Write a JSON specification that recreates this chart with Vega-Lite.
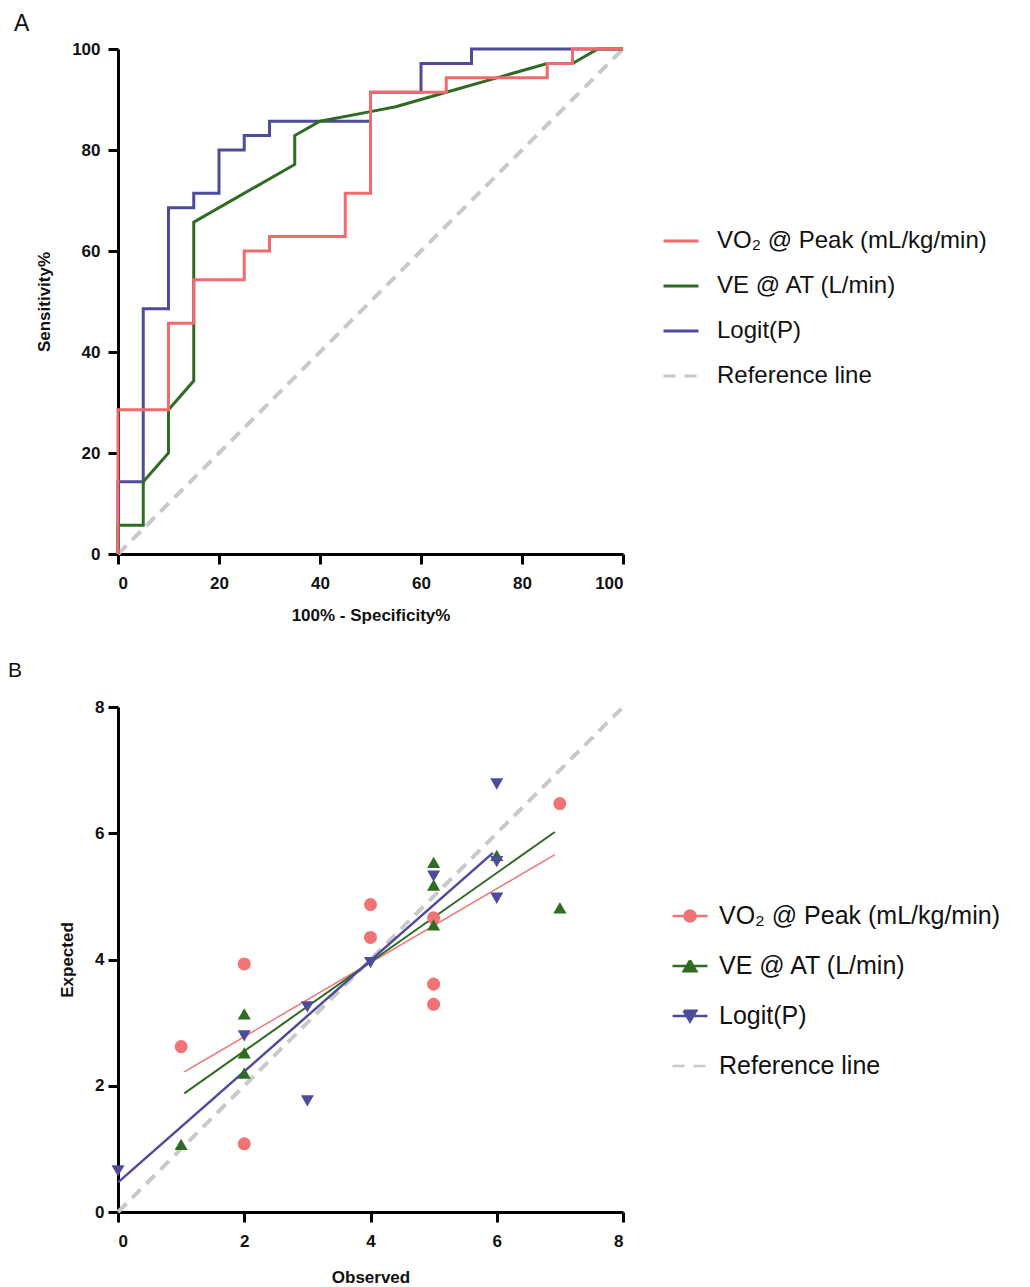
{
  "$schema": "https://vega.github.io/schema/vega-lite/v6.json",
  "background": "white",
  "padding": {"left": 8, "top": 13, "right": 0, "bottom": 0},
  "config": {
    "view": {"stroke": null},
    "font": "Liberation Sans",
    "axis": {
      "grid": false,
      "domainColor": "#000000",
      "domainWidth": 3,
      "tickColor": "#000000",
      "tickWidth": 3,
      "tickSize": 10,
      "labelFont": "Liberation Sans",
      "labelFontWeight": "bold",
      "labelFontSize": 17,
      "labelColor": "#111111",
      "titleFont": "Liberation Sans",
      "titleFontWeight": "bold",
      "titleFontSize": 17,
      "titleColor": "#111111"
    },
    "legend": {"labelFont": "Liberation Sans", "labelColor": "#111111"}
  },
  "datasets": {
    "roc": [
      {"series": "Logit(P)", "i": 0, "x": 0, "y": 0},
      {"series": "Logit(P)", "i": 1, "x": 0, "y": 14.29},
      {"series": "Logit(P)", "i": 2, "x": 5, "y": 14.29},
      {"series": "Logit(P)", "i": 3, "x": 5, "y": 48.57},
      {"series": "Logit(P)", "i": 4, "x": 10, "y": 48.57},
      {"series": "Logit(P)", "i": 5, "x": 10, "y": 68.57},
      {"series": "Logit(P)", "i": 6, "x": 15, "y": 68.57},
      {"series": "Logit(P)", "i": 7, "x": 15, "y": 71.43},
      {"series": "Logit(P)", "i": 8, "x": 20, "y": 71.43},
      {"series": "Logit(P)", "i": 9, "x": 20, "y": 80},
      {"series": "Logit(P)", "i": 10, "x": 25, "y": 80},
      {"series": "Logit(P)", "i": 11, "x": 25, "y": 82.86},
      {"series": "Logit(P)", "i": 12, "x": 30, "y": 82.86},
      {"series": "Logit(P)", "i": 13, "x": 30, "y": 85.71},
      {"series": "Logit(P)", "i": 14, "x": 50, "y": 85.71},
      {"series": "Logit(P)", "i": 15, "x": 50, "y": 91.43},
      {"series": "Logit(P)", "i": 16, "x": 60, "y": 91.43},
      {"series": "Logit(P)", "i": 17, "x": 60, "y": 97.14},
      {"series": "Logit(P)", "i": 18, "x": 70, "y": 97.14},
      {"series": "Logit(P)", "i": 19, "x": 70, "y": 100},
      {"series": "Logit(P)", "i": 20, "x": 100, "y": 100},
      {"series": "VE @ AT (L/min)", "i": 0, "x": 0, "y": 0},
      {"series": "VE @ AT (L/min)", "i": 1, "x": 0, "y": 5.71},
      {"series": "VE @ AT (L/min)", "i": 2, "x": 5, "y": 5.71},
      {"series": "VE @ AT (L/min)", "i": 3, "x": 5, "y": 14.29},
      {"series": "VE @ AT (L/min)", "i": 4, "x": 10, "y": 20},
      {"series": "VE @ AT (L/min)", "i": 5, "x": 10, "y": 28.57},
      {"series": "VE @ AT (L/min)", "i": 6, "x": 15, "y": 34.29},
      {"series": "VE @ AT (L/min)", "i": 7, "x": 15, "y": 65.71},
      {"series": "VE @ AT (L/min)", "i": 8, "x": 35, "y": 77.14},
      {"series": "VE @ AT (L/min)", "i": 9, "x": 35, "y": 82.86},
      {"series": "VE @ AT (L/min)", "i": 10, "x": 40, "y": 85.71},
      {"series": "VE @ AT (L/min)", "i": 11, "x": 50, "y": 87.6},
      {"series": "VE @ AT (L/min)", "i": 12, "x": 55, "y": 88.57},
      {"series": "VE @ AT (L/min)", "i": 13, "x": 65, "y": 91.43},
      {"series": "VE @ AT (L/min)", "i": 14, "x": 75, "y": 94.29},
      {"series": "VE @ AT (L/min)", "i": 15, "x": 85, "y": 97.14},
      {"series": "VE @ AT (L/min)", "i": 16, "x": 90, "y": 97.14},
      {"series": "VE @ AT (L/min)", "i": 17, "x": 95, "y": 100},
      {"series": "VE @ AT (L/min)", "i": 18, "x": 100, "y": 100},
      {"series": "VO₂ @ Peak (mL/kg/min)", "i": 0, "x": 0, "y": 0},
      {"series": "VO₂ @ Peak (mL/kg/min)", "i": 1, "x": 0, "y": 28.57},
      {"series": "VO₂ @ Peak (mL/kg/min)", "i": 2, "x": 10, "y": 28.57},
      {"series": "VO₂ @ Peak (mL/kg/min)", "i": 3, "x": 10, "y": 45.71},
      {"series": "VO₂ @ Peak (mL/kg/min)", "i": 4, "x": 15, "y": 45.71},
      {"series": "VO₂ @ Peak (mL/kg/min)", "i": 5, "x": 15, "y": 54.29},
      {"series": "VO₂ @ Peak (mL/kg/min)", "i": 6, "x": 25, "y": 54.29},
      {"series": "VO₂ @ Peak (mL/kg/min)", "i": 7, "x": 25, "y": 60},
      {"series": "VO₂ @ Peak (mL/kg/min)", "i": 8, "x": 30, "y": 60},
      {"series": "VO₂ @ Peak (mL/kg/min)", "i": 9, "x": 30, "y": 62.86},
      {"series": "VO₂ @ Peak (mL/kg/min)", "i": 10, "x": 45, "y": 62.86},
      {"series": "VO₂ @ Peak (mL/kg/min)", "i": 11, "x": 45, "y": 71.43},
      {"series": "VO₂ @ Peak (mL/kg/min)", "i": 12, "x": 50, "y": 71.43},
      {"series": "VO₂ @ Peak (mL/kg/min)", "i": 13, "x": 50, "y": 91.43},
      {"series": "VO₂ @ Peak (mL/kg/min)", "i": 14, "x": 65, "y": 91.43},
      {"series": "VO₂ @ Peak (mL/kg/min)", "i": 15, "x": 65, "y": 94.29},
      {"series": "VO₂ @ Peak (mL/kg/min)", "i": 16, "x": 85, "y": 94.29},
      {"series": "VO₂ @ Peak (mL/kg/min)", "i": 17, "x": 85, "y": 97.14},
      {"series": "VO₂ @ Peak (mL/kg/min)", "i": 18, "x": 90, "y": 97.14},
      {"series": "VO₂ @ Peak (mL/kg/min)", "i": 19, "x": 90, "y": 100},
      {"series": "VO₂ @ Peak (mL/kg/min)", "i": 20, "x": 100, "y": 100}
    ],
    "refA": [
      {"series": "Reference line", "x": 0, "y": 0},
      {"series": "Reference line", "x": 100, "y": 100}
    ],
    "refB": [
      {"series": "Reference line", "x": 0, "y": 0},
      {"series": "Reference line", "x": 8, "y": 8}
    ],
    "fit": [
      {"series": "VO₂ @ Peak (mL/kg/min)", "x": 1.05, "y": 2.22},
      {"series": "VO₂ @ Peak (mL/kg/min)", "x": 6.92, "y": 5.66},
      {"series": "VE @ AT (L/min)", "x": 1.05, "y": 1.88},
      {"series": "VE @ AT (L/min)", "x": 6.92, "y": 6.02},
      {"series": "Logit(P)", "x": 0, "y": 0.47},
      {"series": "Logit(P)", "x": 5.94, "y": 5.69}
    ],
    "pts": [
      {"series": "VO₂ @ Peak (mL/kg/min)", "x": 1, "y": 2.62},
      {"series": "VO₂ @ Peak (mL/kg/min)", "x": 2, "y": 3.93},
      {"series": "VO₂ @ Peak (mL/kg/min)", "x": 2, "y": 1.08},
      {"series": "VO₂ @ Peak (mL/kg/min)", "x": 4, "y": 4.87},
      {"series": "VO₂ @ Peak (mL/kg/min)", "x": 4, "y": 4.35},
      {"series": "VO₂ @ Peak (mL/kg/min)", "x": 5, "y": 4.66},
      {"series": "VO₂ @ Peak (mL/kg/min)", "x": 5, "y": 3.61},
      {"series": "VO₂ @ Peak (mL/kg/min)", "x": 5, "y": 3.29},
      {"series": "VO₂ @ Peak (mL/kg/min)", "x": 7, "y": 6.47},
      {"series": "VE @ AT (L/min)", "x": 1, "y": 1.07},
      {"series": "VE @ AT (L/min)", "x": 2, "y": 3.14},
      {"series": "VE @ AT (L/min)", "x": 2, "y": 2.52},
      {"series": "VE @ AT (L/min)", "x": 2, "y": 2.2},
      {"series": "VE @ AT (L/min)", "x": 5, "y": 5.54},
      {"series": "VE @ AT (L/min)", "x": 5, "y": 5.18},
      {"series": "VE @ AT (L/min)", "x": 5, "y": 4.55},
      {"series": "VE @ AT (L/min)", "x": 6, "y": 5.65},
      {"series": "VE @ AT (L/min)", "x": 7, "y": 4.82},
      {"series": "Logit(P)", "x": 0, "y": 0.65},
      {"series": "Logit(P)", "x": 2, "y": 2.79},
      {"series": "Logit(P)", "x": 3, "y": 3.25},
      {"series": "Logit(P)", "x": 3, "y": 1.76},
      {"series": "Logit(P)", "x": 4, "y": 3.95},
      {"series": "Logit(P)", "x": 5, "y": 5.32},
      {"series": "Logit(P)", "x": 6, "y": 6.78},
      {"series": "Logit(P)", "x": 6, "y": 5.55},
      {"series": "Logit(P)", "x": 6, "y": 4.97}
    ]
  },
  "resolve": {
    "scale": {"color": "independent", "shape": "independent", "strokeWidth": "independent", "size": "independent"},
    "legend": {"color": "independent", "shape": "independent", "strokeWidth": "independent", "size": "independent"}
  },
  "spacing": 37,
  "vconcat": [
    {
      "width": 505,
      "height": 505,
      "title": {"text": "A", "anchor": "start", "frame": "group", "dx": -104, "offset": 4, "fontSize": 23, "fontWeight": "normal", "font": "Liberation Sans", "color": "#111111"},
      "layer": [
        {
          "data": {"name": "refA"},
          "mark": {"type": "line", "strokeDash": [12, 8], "strokeWidth": 4},
          "encoding": {
            "x": {"field": "x", "type": "quantitative", "scale": {"domain": [0, 100], "nice": false}, "axis": {"values": [0, 20, 40, 60, 80, 100], "title": "100% - Specificity%", "labelPadding": 11, "titlePadding": 16}},
            "y": {"field": "y", "type": "quantitative", "scale": {"domain": [0, 100], "nice": false}, "axis": {"values": [0, 20, 40, 60, 80, 100], "title": "Sensitivity%", "labelPadding": 8, "titlePadding": 18}},
            "color": {
              "field": "series", "type": "nominal",
              "scale": {"domain": ["VO₂ @ Peak (mL/kg/min)", "VE @ AT (L/min)", "Logit(P)", "Reference line"], "range": ["#F06A6E", "#2F6B23", "#4D4C9A", "#C9C9C9"]},
              "legend": {
                "orient": "none", "legendX": 544, "legendY": 173, "title": null,
                "symbolType": "stroke", "symbolSize": 1225, "symbolStrokeWidth": 3,
                "labelFontSize": 24, "labelOffset": 17, "rowPadding": 14, "labelLimit": 500,
                "encoding": {"symbols": {
                  "strokeDash": {"value": {"expr": "datum.value === 'Reference line' ? [12, 9] : [60, 0]"}},
                  "stroke": {"value": {"expr": "datum.value === 'Reference line' ? '#C9C9C9' : datum.value === 'Logit(P)' ? '#4D4C9A' : datum.value === 'VE @ AT (L/min)' ? '#2F6B23' : '#F06A6E'"}}
                }}
              }
            }
          }
        },
        {
          "data": {"name": "roc"},
          "mark": {"type": "line", "strokeWidth": 3},
          "encoding": {
            "x": {"field": "x", "type": "quantitative"},
            "y": {"field": "y", "type": "quantitative"},
            "order": {"field": "i", "type": "quantitative"},
            "color": {"field": "series", "type": "nominal"}
          }
        }
      ]
    },
    {
      "width": 505,
      "height": 505,
      "title": {"text": "B", "anchor": "start", "frame": "group", "dx": -110, "offset": 17, "fontSize": 21, "fontWeight": "normal", "font": "Liberation Sans", "color": "#111111"},
      "layer": [
        {
          "data": {"name": "refB"},
          "mark": {"type": "line", "strokeDash": [12, 8], "strokeWidth": 4},
          "encoding": {
            "x": {"field": "x", "type": "quantitative", "scale": {"domain": [0, 8], "nice": false}, "axis": {"values": [0, 2, 4, 6, 8], "format": "d", "title": "Observed", "labelPadding": 11, "titlePadding": 20}},
            "y": {"field": "y", "type": "quantitative", "scale": {"domain": [0, 8], "nice": false}, "axis": {"values": [0, 2, 4, 6, 8], "format": "d", "title": "Expected", "labelPadding": 4, "titlePadding": 18}},
            "color": {
              "field": "series", "type": "nominal",
              "scale": {"domain": ["VO₂ @ Peak (mL/kg/min)", "VE @ AT (L/min)", "Logit(P)", "Reference line"], "range": ["#F07476", "#2F6B23", "#4D4C9A", "#C9C9C9"]},
              "legend": {
                "orient": "none", "legendX": 553, "legendY": 190, "title": null,
                "symbolType": "circle", "symbolSize": 1225, "symbolStrokeWidth": 2.5,
                "labelFontSize": 25, "labelOffset": 10, "rowPadding": 18, "labelLimit": 500,
                "encoding": {"symbols": {
                  "shape": {"value": {"expr": "datum.value === 'Reference line' ? 'M-1,0H1' : datum.value === 'Logit(P)' ? 'M-1,0H1M-0.36,-0.3L0.36,-0.3L0,0.32Z' : datum.value === 'VE @ AT (L/min)' ? 'M-1,0H1M0,-0.32L0.36,0.3L-0.36,0.3Z' : 'M-1,0H1M0.32,0A0.32,0.32 0 1,1 -0.32,0A0.32,0.32 0 1,1 0.32,0Z'"}},
                  "fill": {"value": {"expr": "datum.value === 'Reference line' ? 'transparent' : datum.value === 'Logit(P)' ? '#4D4C9A' : datum.value === 'VE @ AT (L/min)' ? '#2F6B23' : '#F07476'"}},
                  "stroke": {"value": {"expr": "datum.value === 'Reference line' ? '#C9C9C9' : datum.value === 'Logit(P)' ? '#4D4C9A' : datum.value === 'VE @ AT (L/min)' ? '#2F6B23' : '#F07476'"}},
                  "strokeDash": {"value": {"expr": "datum.value === 'Reference line' ? [12, 9] : [60, 0]"}}
                }}
              }
            }
          }
        },
        {
          "data": {"name": "fit"},
          "mark": {"type": "line"},
          "encoding": {
            "x": {"field": "x", "type": "quantitative"},
            "y": {"field": "y", "type": "quantitative"},
            "color": {"field": "series", "type": "nominal"},
            "strokeWidth": {"field": "series", "type": "nominal", "scale": {"domain": ["VO₂ @ Peak (mL/kg/min)", "VE @ AT (L/min)", "Logit(P)"], "range": [1.5, 2.5, 2.5]}, "legend": null}
          }
        },
        {
          "data": {"name": "pts"},
          "mark": {"type": "point", "filled": true, "opacity": 1},
          "encoding": {
            "x": {"field": "x", "type": "quantitative"},
            "y": {"field": "y", "type": "quantitative"},
            "color": {"field": "series", "type": "nominal"},
            "shape": {"field": "series", "type": "nominal", "scale": {"domain": ["VO₂ @ Peak (mL/kg/min)", "VE @ AT (L/min)", "Logit(P)"], "range": ["circle", "triangle-up", "triangle-down"]}, "legend": null},
            "size": {"field": "series", "type": "nominal", "scale": {"domain": ["VO₂ @ Peak (mL/kg/min)", "VE @ AT (L/min)", "Logit(P)"], "range": [170, 170, 180]}, "legend": null}
          }
        }
      ]
    }
  ]
}
